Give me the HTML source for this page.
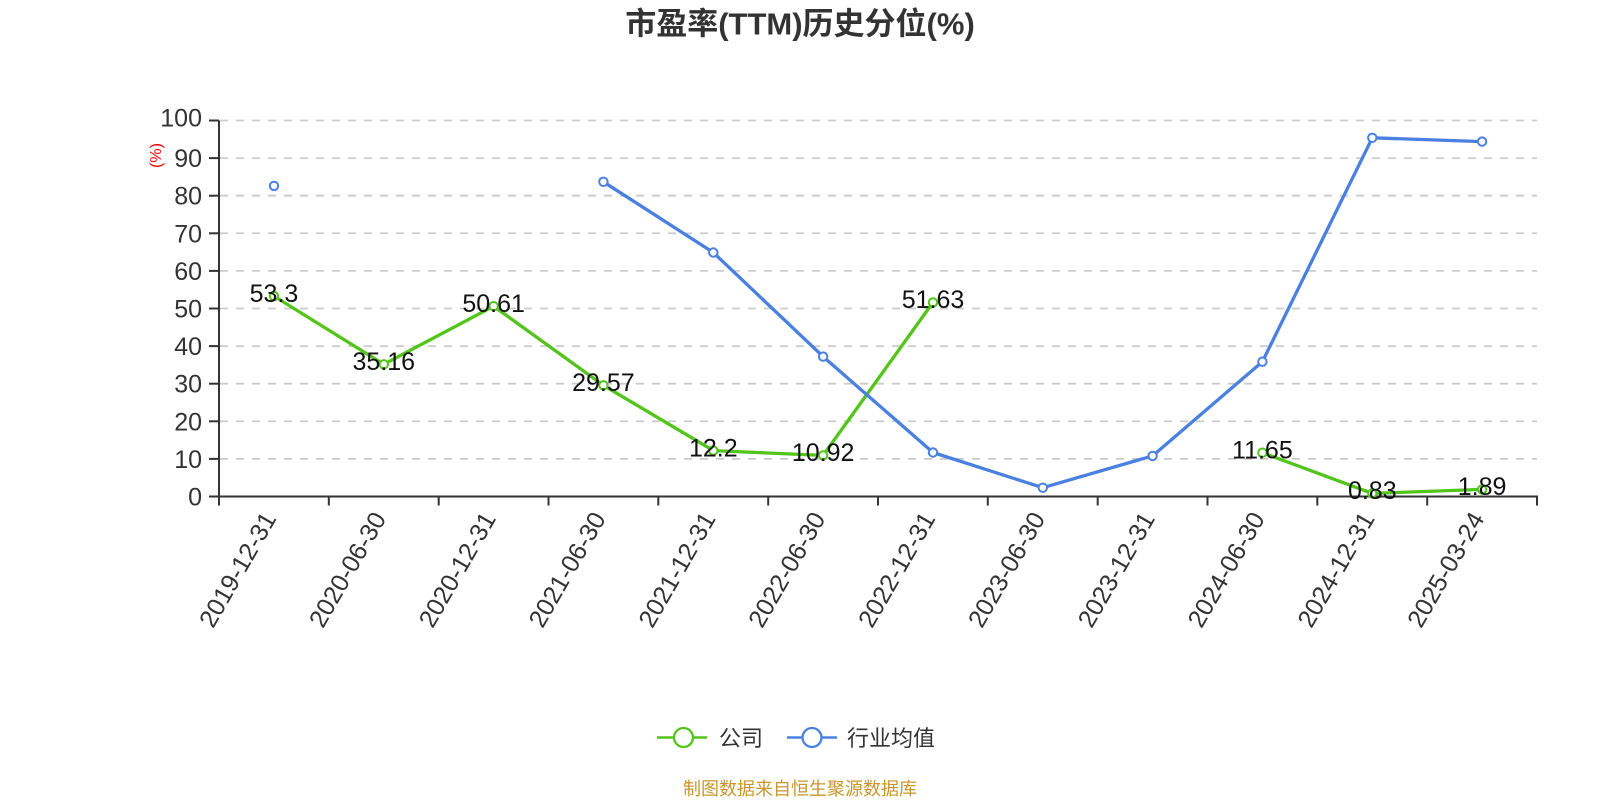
<!DOCTYPE html>
<html>
<head>
<meta charset="utf-8">
<style>
  html,body{margin:0;padding:0;background:#fff;}
  body{width:1600px;height:800px;overflow:hidden;}
  svg{display:block;font-family:"Liberation Sans","Noto Sans CJK SC",sans-serif;}
</style>
</head>
<body>
<svg width="1600" height="800" viewBox="0 0 1600 800" xmlns="http://www.w3.org/2000/svg">
  <!-- Title -->
  <text x="800" y="34.5" text-anchor="middle" font-size="31" font-weight="bold" fill="#333">市盈率(TTM)历史分位(%)</text>

  <!-- Grid lines -->
  <g stroke="#cccccc" stroke-width="1.8" stroke-dasharray="8,8">
    <line x1="220" y1="458.9" x2="1537" y2="458.9"/>
    <line x1="220" y1="421.3" x2="1537" y2="421.3"/>
    <line x1="220" y1="383.7" x2="1537" y2="383.7"/>
    <line x1="220" y1="346.1" x2="1537" y2="346.1"/>
    <line x1="220" y1="308.5" x2="1537" y2="308.5"/>
    <line x1="220" y1="270.9" x2="1537" y2="270.9"/>
    <line x1="220" y1="233.3" x2="1537" y2="233.3"/>
    <line x1="220" y1="195.7" x2="1537" y2="195.7"/>
    <line x1="220" y1="158.1" x2="1537" y2="158.1"/>
    <line x1="220" y1="120.5" x2="1537" y2="120.5"/>
  </g>

  <!-- Axes -->
  <g stroke="#333" stroke-width="2">
    <line x1="219" y1="120.5" x2="219" y2="497.5"/>
    <line x1="218" y1="496.5" x2="1538" y2="496.5"/>
    <line x1="209" y1="496.5" x2="219" y2="496.5"/>
    <line x1="209" y1="458.9" x2="219" y2="458.9"/>
    <line x1="209" y1="421.3" x2="219" y2="421.3"/>
    <line x1="209" y1="383.7" x2="219" y2="383.7"/>
    <line x1="209" y1="346.1" x2="219" y2="346.1"/>
    <line x1="209" y1="308.5" x2="219" y2="308.5"/>
    <line x1="209" y1="270.9" x2="219" y2="270.9"/>
    <line x1="209" y1="233.3" x2="219" y2="233.3"/>
    <line x1="209" y1="195.7" x2="219" y2="195.7"/>
    <line x1="209" y1="158.1" x2="219" y2="158.1"/>
    <line x1="209" y1="120.5" x2="219" y2="120.5"/>
    <line x1="219" y1="496.5" x2="219" y2="505.5"/>
    <line x1="328.8" y1="496.5" x2="328.8" y2="505.5"/>
    <line x1="438.7" y1="496.5" x2="438.7" y2="505.5"/>
    <line x1="548.5" y1="496.5" x2="548.5" y2="505.5"/>
    <line x1="658.3" y1="496.5" x2="658.3" y2="505.5"/>
    <line x1="768.2" y1="496.5" x2="768.2" y2="505.5"/>
    <line x1="878" y1="496.5" x2="878" y2="505.5"/>
    <line x1="987.8" y1="496.5" x2="987.8" y2="505.5"/>
    <line x1="1097.7" y1="496.5" x2="1097.7" y2="505.5"/>
    <line x1="1207.5" y1="496.5" x2="1207.5" y2="505.5"/>
    <line x1="1317.3" y1="496.5" x2="1317.3" y2="505.5"/>
    <line x1="1427.2" y1="496.5" x2="1427.2" y2="505.5"/>
    <line x1="1537" y1="496.5" x2="1537" y2="505.5"/>
  </g>

  <!-- Y labels -->
  <g font-size="25" fill="#333" text-anchor="end">
    <text x="202" y="505.5">0</text>
    <text x="202" y="467.9">10</text>
    <text x="202" y="430.3">20</text>
    <text x="202" y="392.7">30</text>
    <text x="202" y="355.1">40</text>
    <text x="202" y="317.5">50</text>
    <text x="202" y="279.9">60</text>
    <text x="202" y="242.3">70</text>
    <text x="202" y="204.7">80</text>
    <text x="202" y="167.1">90</text>
    <text x="202" y="126.5">100</text>
  </g>

  <!-- Y axis unit -->
  <text x="0" y="0" font-size="16" fill="#ff0000" text-anchor="middle" dominant-baseline="central" transform="translate(156.5,155.5) rotate(-90)">(%)</text>

  <!-- X labels -->
  <g font-size="25" fill="#333" text-anchor="end">
    <text transform="translate(277,518.5) rotate(-60)">2019-12-31</text>
    <text transform="translate(386.8,518.5) rotate(-60)">2020-06-30</text>
    <text transform="translate(496.6,518.5) rotate(-60)">2020-12-31</text>
    <text transform="translate(606.4,518.5) rotate(-60)">2021-06-30</text>
    <text transform="translate(716.3,518.5) rotate(-60)">2021-12-31</text>
    <text transform="translate(826.1,518.5) rotate(-60)">2022-06-30</text>
    <text transform="translate(936,518.5) rotate(-60)">2022-12-31</text>
    <text transform="translate(1045.8,518.5) rotate(-60)">2023-06-30</text>
    <text transform="translate(1155.6,518.5) rotate(-60)">2023-12-31</text>
    <text transform="translate(1265.4,518.5) rotate(-60)">2024-06-30</text>
    <text transform="translate(1375.3,518.5) rotate(-60)">2024-12-31</text>
    <text transform="translate(1485.1,518.5) rotate(-60)">2025-03-24</text>
  </g>

  <!-- Company series (green) -->
  <g fill="none" stroke="#52c41a" stroke-width="3.3" stroke-linejoin="round" stroke-linecap="round">
    <polyline points="274,296.1 383.8,364.3 493.6,306.2 603.4,385.3 713.3,450.6 823.1,455.4 933,302.4"/>
    <polyline points="1262.4,452.7 1372.3,493.4 1482.1,489.4"/>
  </g>
  <g fill="#fff" stroke="#52c41a" stroke-width="2">
    <circle cx="274" cy="296.1" r="4.2"/>
    <circle cx="383.8" cy="364.3" r="4.2"/>
    <circle cx="493.6" cy="306.2" r="4.2"/>
    <circle cx="603.4" cy="385.3" r="4.2"/>
    <circle cx="713.3" cy="450.6" r="4.2"/>
    <circle cx="823.1" cy="455.4" r="4.2"/>
    <circle cx="933" cy="302.4" r="4.2"/>
    <circle cx="1262.4" cy="452.7" r="4.2"/>
    <circle cx="1372.3" cy="493.4" r="4.2"/>
    <circle cx="1482.1" cy="489.4" r="4.2"/>
  </g>

  <!-- Industry series (blue) -->
  <g fill="none" stroke="#4a80e0" stroke-width="3.3" stroke-linejoin="round" stroke-linecap="round">
    <polyline points="603.4,181.8 713.3,252.5 823.1,356.6 933,452.5 1042.8,487.7 1152.6,455.9 1262.4,361.7 1372.3,137.8 1482.1,141.6"/>
  </g>
  <g fill="#fff" stroke="#4a80e0" stroke-width="2">
    <circle cx="274" cy="185.9" r="4.2"/>
    <circle cx="603.4" cy="181.8" r="4.2"/>
    <circle cx="713.3" cy="252.5" r="4.2"/>
    <circle cx="823.1" cy="356.6" r="4.2"/>
    <circle cx="933" cy="452.5" r="4.2"/>
    <circle cx="1042.8" cy="487.7" r="4.2"/>
    <circle cx="1152.6" cy="455.9" r="4.2"/>
    <circle cx="1262.4" cy="361.7" r="4.2"/>
    <circle cx="1372.3" cy="137.8" r="4.2"/>
    <circle cx="1482.1" cy="141.6" r="4.2"/>
  </g>

  <!-- Data labels (company) -->
  <g font-size="25" fill="#111" text-anchor="middle">
    <text x="274" y="301.8">53.3</text>
    <text x="383.8" y="370">35.16</text>
    <text x="493.6" y="311.9">50.61</text>
    <text x="603.4" y="391">29.57</text>
    <text x="713.3" y="456.3">12.2</text>
    <text x="823.1" y="461.1">10.92</text>
    <text x="933" y="308.1">51.63</text>
    <text x="1262.4" y="458.4">11.65</text>
    <text x="1372.3" y="499.1">0.83</text>
    <text x="1482.1" y="495.1">1.89</text>
  </g>

  <!-- Legend -->
  <line x1="657" y1="737.5" x2="707" y2="737.5" stroke="#52c41a" stroke-width="2.5"/>
  <circle cx="683.5" cy="737.5" r="9.5" fill="#fff" stroke="#52c41a" stroke-width="2.3"/>
  <text x="719" y="746" font-size="22" fill="#333">公司</text>

  <line x1="787" y1="737.5" x2="837" y2="737.5" stroke="#4a80e0" stroke-width="2.5"/>
  <circle cx="812" cy="737.5" r="9.5" fill="#fff" stroke="#4a80e0" stroke-width="2.3"/>
  <text x="847" y="746" font-size="22" fill="#333">行业均值</text>

  <!-- Footer -->
  <text x="800" y="795" text-anchor="middle" font-size="18" fill="#c8962c">制图数据来自恒生聚源数据库</text>
</svg>
</body>
</html>
